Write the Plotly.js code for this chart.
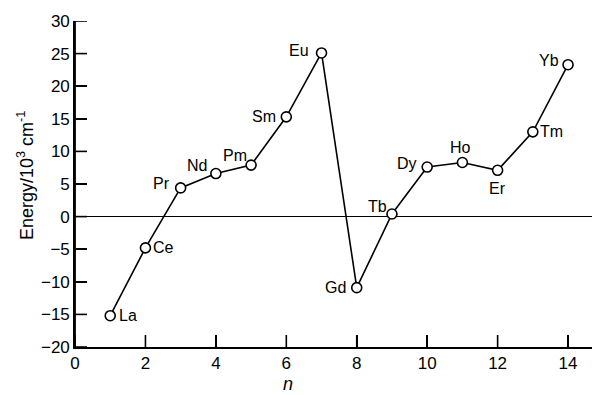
<!DOCTYPE html>
<html>
<head>
<meta charset="utf-8">
<script src="https://cdn.plot.ly/plotly-3.0.1.min.js"></script>
<style>html,body{margin:0;padding:0;background:#fff;}#chart{width:592px;height:395px;}</style>
</head>
<body>
<div id="chart"></div>
<script>
// Data
const n = [1, 2, 3, 4, 5, 6, 7, 8, 9, 10, 11, 12, 13, 14];
const elements = ["La", "Ce", "Pr", "Nd", "Pm", "Sm", "Eu", "Gd", "Tb", "Dy", "Ho", "Er", "Tm", "Yb"];
const energy = [-15.2, -4.8, 4.4, 6.6, 7.9, 15.3, 25.1, -10.9, 0.4, 7.6, 8.3, 7.1, 13.0, 23.3];
const yTicks = [-20, -15, -10, -5, 0, 5, 10, 15, 20, 25, 30];
const xTicks = [0, 2, 4, 6, 8, 10, 12, 14];
const xTitle = "<i>n</i>";
const yTitle = "Energy/10<sup>3</sup> cm<sup>-1</sup>";

// Label placement (style): pixel offsets from each point
const labelDx = [18, 18, -19, -19, -16, -22, -23, -21, -14, -20, -2, 0, 19, -19];
const labelDy = [0, 0, 4, 8, 10, 0, 2, 0, 7, 4, 15, -18, 0, 4];

const FONT = "Liberation Sans, Arial, sans-serif";
const TICKLEN = 12, TICKW = 1.6, AXW = 1.8;

const trace = {
  x: n, y: energy, type: "scatter", mode: "lines+markers",
  line: {color: "#000", width: 1.6},
  marker: {symbol: "circle", size: 10, color: "#fff", line: {color: "#000", width: 1.6}},
  hoverinfo: "skip"
};

const annotations = elements.map((el, i) => ({
  x: n[i], y: energy[i], xref: "x", yref: "y", text: el, showarrow: false,
  xshift: labelDx[i], yshift: labelDy[i],
  font: {family: FONT, size: 16, color: "#000"}
}));
// Axis titles
annotations.push({
  xref: "paper", yref: "paper", x: 0.412, y: 0, yshift: -37, text: xTitle, showarrow: false,
  xanchor: "center", yanchor: "middle", font: {family: FONT, size: 18, color: "#000"}
});
annotations.push({
  xref: "paper", yref: "paper", x: 0, y: 0.5, xshift: -50, yshift: 8, text: yTitle, showarrow: false,
  textangle: -90, xanchor: "center", yanchor: "middle", font: {family: FONT, size: 18, color: "#000"}
});

// Inward tick marks and left axis line, placed through the axes
const shapes = [];
yTicks.forEach(v => shapes.push({
  type: "line", xref: "paper", xsizemode: "pixel", xanchor: 0, x0: 0, x1: TICKLEN,
  yref: "y", y0: v, y1: v, line: {color: "#000", width: TICKW}, layer: "above"
}));
xTicks.forEach(v => shapes.push({
  type: "line", yref: "paper", ysizemode: "pixel", yanchor: 0, y0: 0, y1: TICKLEN,
  xref: "x", x0: v, x1: v, line: {color: "#000", width: TICKW}, layer: "above"
}));
shapes.push({
  type: "line", xref: "paper", x0: 0, x1: 0, yref: "paper", y0: 0, y1: 1,
  line: {color: "#000", width: AXW}, layer: "above"
});

const layout = {
  width: 592, height: 395,
  margin: {l: 75, r: 0, t: 21, b: 48},
  paper_bgcolor: "#fff", plot_bgcolor: "#fff",
  showlegend: false,
  font: {family: FONT, size: 17, color: "#000"},
  xaxis: {
    range: [0, 14.68], tickmode: "array", tickvals: xTicks,
    ticks: "inside", ticklen: TICKLEN, tickwidth: TICKW, tickcolor: "#000",
    showline: true, linecolor: "#000", linewidth: AXW,
    showgrid: false, zeroline: false,
    tickfont: {family: FONT, size: 17, color: "#000"}
  },
  yaxis: {
    range: [-20, 30], tickmode: "array", tickvals: yTicks,
    ticks: "inside", ticklen: TICKLEN, tickwidth: TICKW, tickcolor: "#000",
    showline: true, linecolor: "#000", linewidth: AXW,
    showgrid: false, zeroline: true, zerolinecolor: "#000", zerolinewidth: 1.3,
    tickfont: {family: FONT, size: 17, color: "#000"}
  },
  shapes: shapes,
  annotations: annotations
};

Plotly.newPlot("chart", [trace], layout, {staticPlot: true, displayModeBar: false});
</script>
</body>
</html>
